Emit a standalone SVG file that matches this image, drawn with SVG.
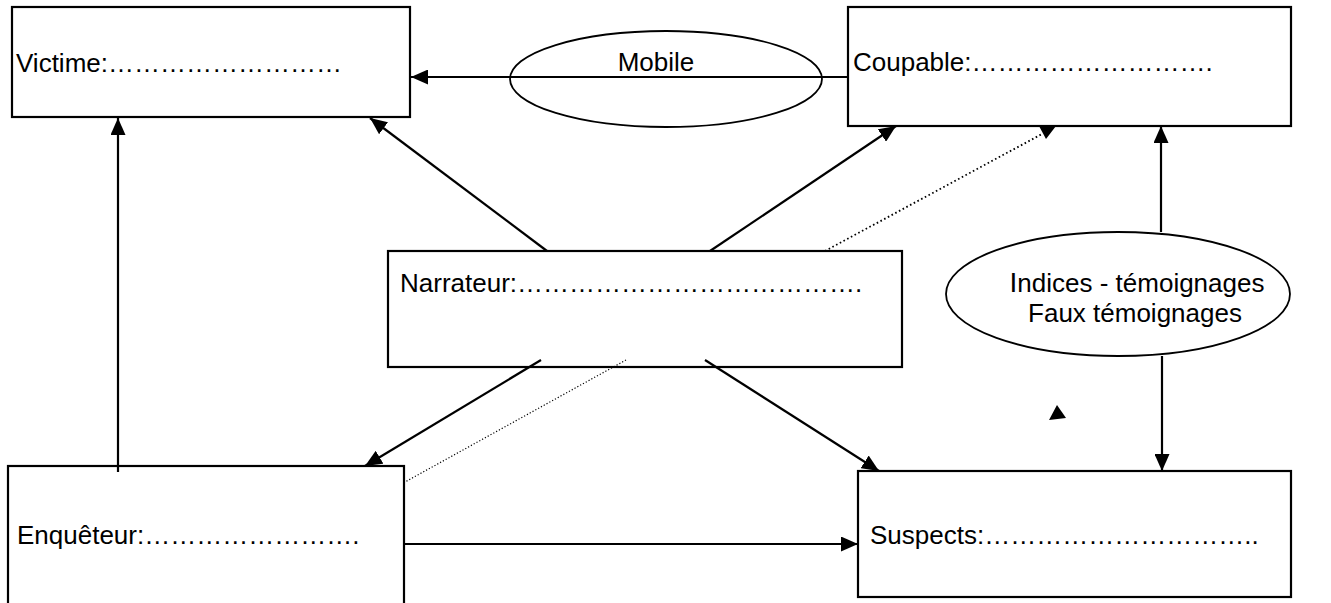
<svg xmlns="http://www.w3.org/2000/svg" width="1331" height="603" viewBox="0 0 1331 603">
<style>
.box{fill:#fff;stroke:#000;stroke-width:2.2}
.ell{fill:none;stroke:#000;stroke-width:1.8}
.t{font-family:"Liberation Sans",Arial,sans-serif;font-size:26px;fill:#000}
.c{stroke:#000;stroke-width:2.2;fill:none}
.a{marker-end:url(#ah)}
.dot{stroke:#000;stroke-width:1.8;stroke-dasharray:1.6 2.6;fill:none}
.dot2{stroke:#000;stroke-width:1.2;stroke-dasharray:1.2 2;fill:none}
</style>
<defs>
<marker id="ah" markerUnits="userSpaceOnUse" markerWidth="17" markerHeight="15" refX="17" refY="7.5" orient="auto">
<path d="M0,0 L17,7.5 L0,15 Z" fill="#000"/>
</marker>
</defs>
<rect width="1331" height="603" fill="#fff"/>
<g id="victime">
<rect class="box" x="12" y="7" width="398" height="110"/>
<text class="t" x="16" y="72">Victime:………………………</text>
</g>
<g id="coupable">
<rect class="box" x="848" y="7" width="443" height="119"/>
<text class="t" x="853" y="71">Coupable:……………………….</text>
</g>
<g id="narrateur">
<rect class="box" x="388" y="251" width="514" height="116"/>
<text class="t" x="400" y="292">Narrateur:………………………………….</text>
</g>
<g id="enqueteur">
<rect class="box" x="8" y="466" width="396" height="160"/>
<text class="t" x="17" y="544">Enquêteur:…………………….</text>
</g>
<g id="suspects">
<rect class="box" x="858" y="471" width="433" height="126"/>
<text class="t" x="870" y="544">Suspects:…………………………..</text>
</g>
<g id="connectors">
<line class="c a" x1="848" y1="77" x2="411" y2="77"/>
<line class="c a" x1="118" y1="472" x2="118" y2="118"/>
<line class="c a" x1="547" y1="251" x2="370" y2="118"/>
<line class="c a" x1="710" y1="251" x2="896" y2="126"/>
<line class="dot" x1="825" y1="251" x2="1042" y2="134"/>
<polygon points="1039,126 1056,126 1046,139" fill="#000"/>
<line class="c a" x1="541" y1="360" x2="365" y2="466"/>
<line class="dot2" x1="626" y1="360" x2="405" y2="482"/>
<line class="c a" x1="705" y1="360" x2="879" y2="471"/>
<line class="c a" x1="404" y1="544" x2="858" y2="544"/>
<line class="c a" x1="1161" y1="232" x2="1161" y2="126"/>
<line class="c a" x1="1162" y1="356" x2="1162" y2="471"/>
<polygon points="1057,405 1066,418 1049,420" fill="#000"/>
</g>
<g id="mobile">
<ellipse class="ell" cx="666" cy="79" rx="156" ry="48"/>
<text class="t" x="656" y="71" text-anchor="middle">Mobile</text>
</g>
<g id="indices">
<ellipse class="ell" cx="1118" cy="294" rx="172" ry="62"/>
<text class="t" x="1137" y="292" text-anchor="middle"><tspan font-size="28">I</tspan>ndices - témoignages</text>
<text class="t" x="1135" y="322" text-anchor="middle">Faux témoignages</text>
</g>
</svg>
